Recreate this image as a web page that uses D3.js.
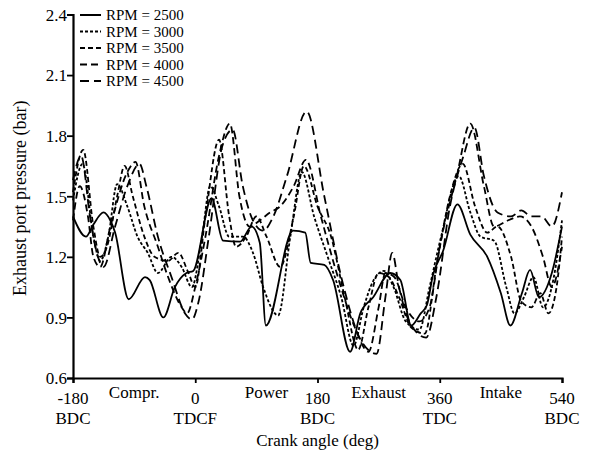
<!DOCTYPE html>
<html>
<head>
<meta charset="utf-8">
<script src="https://cdn.jsdelivr.net/npm/d3@7"></script>
<style>
  body { margin: 0; background: #fff; }
  svg text { font-family: "Liberation Serif", "Times New Roman", serif; fill: #000; }
</style>
</head>
<body>
<div id="chart"></div>
<script>
// DATA (crank angle in deg, pressure in bar)
const rpm2500 = [
  [-180, 1.40], [-161, 1.30], [-150, 1.36], [-135, 1.42], [-125, 1.38], [-118, 1.32],
  [-98, 0.99], [-74, 1.10], [-67, 1.085], [-47, 0.90], [-30, 1.05], [-13, 1.12],
  [-3, 1.13], [24, 1.49], [41, 1.28], [66, 1.275], [83, 1.35], [95, 1.27],
  [104, 0.86], [144, 1.33], [162, 1.32], [170, 1.17], [190, 1.16], [203, 1.085],
  [228, 0.73], [243, 0.92], [262, 1.0], [287, 1.12], [302, 1.085], [318, 0.86],
  [332, 0.92], [341, 0.96], [350, 1.11], [365, 1.23], [386, 1.46], [405, 1.31],
  [430, 1.20], [450, 1.02], [464, 0.86], [481, 1.02], [493, 1.135], [506, 1.0],
  [525, 1.12], [540, 1.35]
];
const rpm3000 = [
  [-180, 1.48], [-166, 1.66], [-150, 1.30], [-140, 1.18], [-128, 1.30], [-115, 1.56],
  [-100, 1.45], [-85, 1.30], [-70, 1.22], [-55, 1.12], [-35, 1.20], [-20, 1.15],
  [-5, 1.05], [10, 1.30], [22, 1.55], [35, 1.45], [50, 1.30], [70, 1.30],
  [85, 1.22], [100, 1.05], [122, 0.91], [140, 1.30], [157, 1.62], [175, 1.40],
  [195, 1.20], [215, 1.00], [233, 0.76], [248, 0.95], [262, 1.08], [278, 1.13],
  [292, 1.05], [310, 0.88], [330, 0.84], [345, 1.05], [362, 1.30], [388, 1.60],
  [405, 1.42], [420, 1.30], [440, 1.28], [458, 1.05], [470, 0.92], [484, 1.00],
  [498, 1.10], [512, 0.95], [528, 1.10], [540, 1.38]
];
const rpm3500 = [
  [-180, 1.52], [-165, 1.73], [-150, 1.35], [-140, 1.20], [-130, 1.25], [-115, 1.50],
  [-104, 1.65], [-92, 1.50], [-75, 1.30], [-60, 1.20], [-40, 1.18], [-25, 1.22],
  [-10, 1.12], [0, 1.05], [15, 1.40], [35, 1.78], [50, 1.40], [60, 1.25],
  [75, 1.30], [90, 1.40], [105, 1.30], [125, 1.15], [145, 1.40], [160, 1.65],
  [180, 1.45], [200, 1.30], [220, 1.00], [240, 0.74], [255, 0.95], [270, 1.12],
  [285, 1.10], [300, 1.00], [318, 0.85], [338, 0.82], [355, 1.15], [375, 1.50],
  [394, 1.66], [412, 1.45], [430, 1.32], [445, 1.35], [465, 1.20], [480, 0.98],
  [495, 0.95], [508, 1.02], [520, 0.92], [532, 1.05], [540, 1.30]
];
const rpm4000 = [
  [-180, 1.38], [-170, 1.55], [-158, 1.40], [-150, 1.20], [-140, 1.15], [-125, 1.35],
  [-100, 1.62], [-88, 1.67], [-75, 1.45], [-55, 1.25], [-40, 1.10], [-20, 0.95],
  [-12, 0.92], [0, 1.05], [15, 1.30], [35, 1.70], [51, 1.86], [65, 1.50],
  [80, 1.35], [95, 1.38], [110, 1.42], [125, 1.45], [145, 1.55], [163, 1.68],
  [185, 1.40], [210, 1.10], [235, 0.85], [255, 0.73], [270, 0.95], [280, 1.12],
  [293, 1.10], [310, 0.95], [330, 0.88], [345, 0.95], [360, 1.25], [385, 1.60],
  [405, 1.86], [425, 1.55], [440, 1.35], [460, 1.38], [478, 1.40], [495, 1.35],
  [512, 1.20], [525, 1.05], [540, 1.25]
];
const rpm4500 = [
  [-180, 1.58], [-168, 1.70], [-155, 1.40], [-145, 1.22], [-135, 1.15], [-118, 1.35],
  [-100, 1.55], [-82, 1.66], [-72, 1.55], [-55, 1.30], [-35, 1.10], [-15, 0.92],
  [-5, 0.89], [5, 0.98], [20, 1.30], [40, 1.75], [55, 1.83], [70, 1.55],
  [85, 1.38], [100, 1.33], [115, 1.40], [135, 1.60], [164, 1.92], [190, 1.50],
  [215, 1.10], [245, 0.78], [267, 0.72], [280, 1.00], [290, 1.22], [300, 1.05],
  [315, 0.88], [340, 0.80], [355, 1.00], [375, 1.45], [395, 1.70], [411, 1.84],
  [425, 1.60], [445, 1.42], [465, 1.40], [480, 1.43], [495, 1.40], [510, 1.40],
  [525, 1.35], [540, 1.52]
];

const seriesNames = ["RPM = 2500", "RPM = 3000", "RPM = 3500", "RPM = 4000", "RPM = 4500"];
const seriesValues = [rpm2500, rpm3000, rpm3500, rpm4000, rpm4500];

const xTicks = [-180, 0, 180, 360, 540];
const xTickNames = ["BDC", "TDCF", "BDC", "TDC", "BDC"];
const yTicks = [0.6, 0.9, 1.2, 1.5, 1.8, 2.1, 2.4];
const strokeNames = ["Compr.", "Power", "Exhaust", "Intake"];
const strokeAngles = [-90, 105, 270, 450];

// SIZES
const svgWidth = 589;
const svgHeight = 461;
const margin = { top: 14.5, right: 27, bottom: 83, left: 73 };
const fontSize = "17px";
const dashes = ["none", "3,2", "5,3", "7,4", "9,5"];

const svg = d3
  .select("#chart")
  .append("svg")
  .attr("width", svgWidth)
  .attr("height", svgHeight);

const x = d3
  .scaleLinear()
  .domain([-180, 540])
  .range([margin.left, svgWidth - margin.right]);

const y = d3
  .scaleLinear()
  .domain([0.6, 2.4])
  .range([svgHeight - margin.bottom, margin.top]);

// AXES
const xAxis = svg
  .append("g")
  .attr("transform", `translate(0, ${y(0.6)})`)
  .call(d3.axisBottom(x).tickValues(xTicks).tickSize(5).tickFormat(""));

const yAxis = svg
  .append("g")
  .attr("transform", `translate(${x(-180)}, 0)`)
  .call(d3.axisLeft(y).tickValues(yTicks).tickSize(6).tickFormat(d3.format(".1f")));

[xAxis, yAxis].forEach((ax) => {
  ax.select(".domain").attr("stroke", "#000").attr("stroke-width", 2.2);
  ax.selectAll(".tick line").attr("stroke", "#000").attr("stroke-width", 1.8);
});

yAxis
  .selectAll(".tick text")
  .attr("x", -6)
  .attr("dy", "0.34em")
  .style("font-size", fontSize)
  .style("font-family", "Liberation Serif");

// X TICK LABELS (two lines)
const xLabels = svg
  .selectAll(".xlab")
  .data(xTicks)
  .enter()
  .append("g")
  .attr("class", "xlab")
  .attr("transform", (d) => `translate(${x(d)}, 0)`);

xLabels
  .append("text")
  .attr("y", 404)
  .attr("text-anchor", "middle")
  .style("font-size", fontSize)
  .text((d) => d);

xLabels
  .append("text")
  .attr("y", 424)
  .attr("text-anchor", "middle")
  .style("font-size", fontSize)
  .text((d, i) => xTickNames[i]);

// STROKE NAMES
svg
  .selectAll(".stroke-name")
  .data(strokeNames)
  .enter()
  .append("text")
  .attr("class", "stroke-name")
  .attr("x", (d, i) => x(strokeAngles[i]))
  .attr("y", 398)
  .attr("text-anchor", "middle")
  .style("font-size", fontSize)
  .text((d) => d);

// AXIS TITLES
svg
  .append("text")
  .attr("x", x(180))
  .attr("y", 446)
  .attr("text-anchor", "middle")
  .style("font-size", fontSize)
  .text("Crank angle (deg)");

svg
  .append("text")
  .attr("transform", `translate(26, ${(y(0.6) + y(2.4)) / 2 + 2}) rotate(-90)`)
  .attr("text-anchor", "middle")
  .style("font-size", "18px")
  .text("Exhaust port pressure (bar)");

// LINES
const line = d3
  .line()
  .x((d) => x(d[0]))
  .y((d) => y(d[1]))
  .curve(d3.curveMonotoneX);

svg
  .selectAll(".series")
  .data(seriesValues)
  .enter()
  .append("path")
  .attr("class", "series")
  .attr("d", (d) => line(d))
  .attr("fill", "none")
  .attr("stroke", "#000")
  .attr("stroke-width", 1.8)
  .attr("stroke-dasharray", (d, i) => dashes[i]);

// LEGEND
const legend = svg
  .selectAll(".legend")
  .data(seriesNames)
  .enter()
  .append("g")
  .attr("class", "legend")
  .attr("transform", (d, i) => `translate(80, ${15 + i * 16.5})`);

legend
  .append("line")
  .attr("x1", 0)
  .attr("x2", 21)
  .attr("y1", 0)
  .attr("y2", 0)
  .attr("stroke", "#000")
  .attr("stroke-width", 2)
  .attr("stroke-dasharray", (d, i) => dashes[i]);

legend
  .append("text")
  .attr("x", 26)
  .attr("dy", "0.35em")
  .style("font-size", "15px")
  .text((d) => d);
</script>
</body>
</html>
